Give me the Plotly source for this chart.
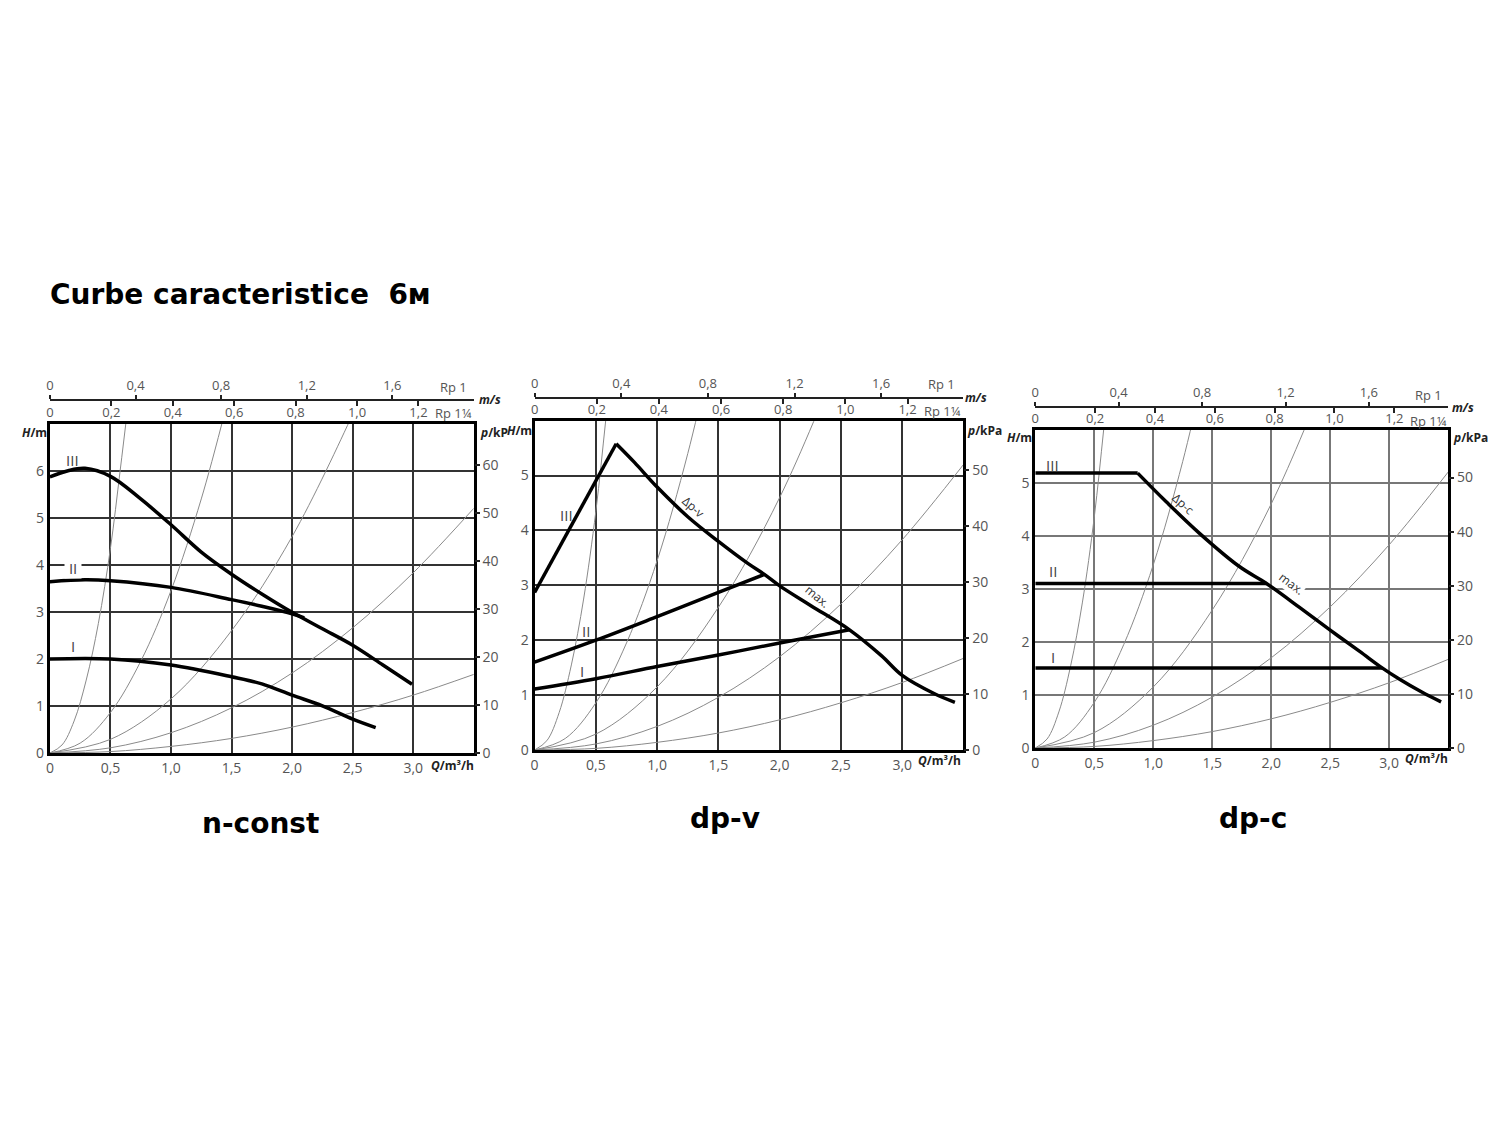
import plotly.graph_objects as go

# ---------------- data ----------------
Q_TICKS = [0, 0.5, 1.0, 1.5, 2.0, 2.5, 3.0]
Q_TICK_TEXT = ["0", "0,5", "1,0", "1,5", "2,0", "2,5", "3,0"]
H_TICKS_7 = [0, 1, 2, 3, 4, 5, 6, 7]
H_TICK_TEXT_7 = ["0", "1", "2", "3", "4", "5", "6", ""]
H_TICKS_6 = [0, 1, 2, 3, 4, 5, 6]
H_TICK_TEXT_6 = ["0", "1", "2", "3", "4", "5", ""]
KPA_TICKS_60 = [0, 10, 20, 30, 40, 50, 60]
KPA_TICKS_50 = [0, 10, 20, 30, 40, 50]
V_RP1_TICKS = [0, 0.4, 0.8, 1.2, 1.6]
V_RP1_TEXT = ["0", "0,4", "0,8", "1,2", "1,6"]
V_RP114_TICKS = [0, 0.2, 0.4, 0.6, 0.8, 1.0, 1.2]
V_RP114_TEXT = ["0", "0,2", "0,4", "0,6", "0,8", "1,0", "1,2"]

Q_MAX = 3.5
KPA_PER_M = 9.81
V_RP1_MAX = 1.98     # m/s (Rp 1) at the right edge of the chart
V_RP114_MAX = 1.38   # m/s (Rp 1 1/4) at the right edge of the chart

# thin system curves (same in all three charts)
SYS_A_Q = [0, 0.1, 0.2, 0.3, 0.4, 0.5, 0.58, 0.65]
SYS_A_H = [0, 0.17, 0.68, 1.55, 2.75, 4.35, 6.0, 7.5]
SYS_B_Q = [0, 0.25, 0.5, 0.75, 1.0, 1.25, 1.45]
SYS_B_H = [0, 0.21, 0.86, 1.95, 3.45, 5.4, 7.3]
SYS_C_Q = [0, 0.5, 1.0, 1.5, 2.0, 2.5, 2.6]
SYS_C_H = [0, 0.29, 1.15, 2.6, 4.6, 7.2, 7.8]
SYS_D_Q = [0, 0.5, 1.0, 1.5, 2.0, 2.5, 3.0, 3.5]
SYS_D_H = [0, 0.11, 0.43, 0.96, 1.7, 2.66, 3.83, 5.2]
SYS_E_Q = [0, 0.5, 1.0, 1.5, 2.0, 2.5, 3.0, 3.5]
SYS_E_H = [0, 0.03, 0.14, 0.31, 0.55, 0.86, 1.23, 1.67]

# n-const
NC_III_Q = [0, 0.15, 0.29, 0.5, 0.75, 1.0, 1.25, 1.5, 1.75, 2.0, 2.25, 2.5, 2.75, 2.99]
NC_III_H = [5.87, 6.0, 6.05, 5.88, 5.4, 4.85, 4.27, 3.8, 3.38, 2.99, 2.64, 2.29, 1.87, 1.46]
NC_II_Q = [0, 0.29, 0.5, 1.0, 1.5, 1.75, 2.0, 2.1]
NC_II_H = [3.64, 3.68, 3.66, 3.52, 3.26, 3.12, 2.96, 2.87]
NC_I_Q = [0, 0.5, 1.0, 1.5, 1.75, 2.0, 2.25, 2.5, 2.69]
NC_I_H = [2.0, 2.0, 1.87, 1.62, 1.47, 1.23, 1.0, 0.72, 0.54]

# dp-v
DV_III_Q = [0, 0.666]
DV_III_H = [2.87, 5.58]
DV_MAX_Q = [0.666, 0.815, 1.0, 1.25, 1.5, 1.74, 1.875, 2.0, 2.255, 2.57, 2.83, 3.0, 3.26, 3.43]
DV_MAX_H = [5.58, 5.24, 4.79, 4.25, 3.8, 3.4, 3.2, 2.99, 2.63, 2.19, 1.72, 1.36, 1.03, 0.87]
DV_II_Q = [0, 0.5, 1.0, 1.5, 1.875]
DV_II_H = [1.6, 2.0, 2.43, 2.87, 3.2]
DV_I_Q = [0, 0.5, 1.0, 1.5, 2.0, 2.57]
DV_I_H = [1.11, 1.3, 1.52, 1.73, 1.95, 2.19]

# dp-c
DC_III_Q = [0, 0.868]
DC_III_H = [5.18, 5.18]
DC_MAX_Q = [0.868, 1.11, 1.39, 1.73, 1.96, 2.24, 2.5, 2.75, 2.94, 3.085, 3.28, 3.44]
DC_MAX_H = [5.18, 4.64, 4.05, 3.42, 3.1, 2.65, 2.22, 1.82, 1.51, 1.3, 1.05, 0.87]
DC_II_Q = [0, 1.96]
DC_II_H = [3.1, 3.1]
DC_I_Q = [0, 2.94]
DC_I_H = [1.51, 1.51]

TITLE = "Curbe caracteristice  6м"
PANEL_TITLES = ["n-const", "dp-v", "dp-c"]

# ---------------- layout helpers ----------------
W, H = 1500, 1125
OFFX, OFFY = -9, -4   # page offset compensation


def fx(px):
    return (px + OFFX) / W


def fy(py):
    return 1 - (py + OFFY) / H


def xn(i):
    return "x" if i == 1 else f"x{i}"


def yn(i):
    return "y" if i == 1 else f"y{i}"


def xk(i):
    return "xaxis" if i == 1 else f"xaxis{i}"


def yk(i):
    return "yaxis" if i == 1 else f"yaxis{i}"


TICK_FONT = dict(family="Open Sans", size=14, color="#555")
TOP_FONT = dict(family="Open Sans", size=13, color="#555")
LAB_FONT = dict(family="Open Sans", size=12, color="#222")
ROMAN_FONT = dict(family="Open Sans", size=15, color="#444")

panels = [
    dict(l=47, r=472, t=423, b=755, line=399, hmax=7, hticks=H_TICKS_7, htext=H_TICK_TEXT_7,
         kticks=KPA_TICKS_60, grid="#333", gw=1.8,
         rp1=(467, 386), rp114=(472, 412), ms=(475, 399), hm=(46, 432), pk=(476, 432),
         pktext="p/kP", q=(474, 768), title=(258, 826)),
    dict(l=533, r=963, t=420, b=752, line=397, hmax=6, hticks=H_TICKS_6, htext=H_TICK_TEXT_6,
         kticks=KPA_TICKS_50, grid="#333", gw=1.8,
         rp1=(957, 383), rp114=(963, 410), ms=(963, 397), hm=(532, 430), pk=(965, 430),
         pktext="p/kPa", q=(963, 763), title=(724, 821)),
    dict(l=1035, r=1449, t=429, b=750, line=406, hmax=6, hticks=H_TICKS_6, htext=H_TICK_TEXT_6,
         kticks=KPA_TICKS_50, grid="#777", gw=1.5,
         rp1=(1445, 394), rp114=(1450, 420), ms=(1451, 407), hm=(1034, 437), pk=(1452, 437),
         pktext="p/kPa", q=(1451, 761), title=(1253, 821)),
]

layout = dict(
    width=W, height=H, autosize=False,
    margin=dict(l=0, r=0, t=0, b=0, pad=0),
    paper_bgcolor="white", plot_bgcolor="white",
    showlegend=False, hovermode=False,
)
annotations = []
fig = go.Figure()

system_curves = [(SYS_A_Q, SYS_A_H), (SYS_B_Q, SYS_B_H), (SYS_C_Q, SYS_C_H),
                 (SYS_D_Q, SYS_D_H), (SYS_E_Q, SYS_E_H)]

main_curves = [
    [(NC_I_Q, NC_I_H, "spline"), (NC_II_Q, NC_II_H, "spline"), (NC_III_Q, NC_III_H, "spline")],
    [(DV_I_Q, DV_I_H, "spline"), (DV_II_Q, DV_II_H, "spline"), (DV_III_Q, DV_III_H, "linear"),
     (DV_MAX_Q, DV_MAX_H, "spline")],
    [(DC_I_Q, DC_I_H, "linear"), (DC_II_Q, DC_II_H, "linear"), (DC_III_Q, DC_III_H, "linear"),
     (DC_MAX_Q, DC_MAX_H, "spline")],
]

roman_labels = [
    [("III", 0.19, 6.23, None), ("II", 0.19, 3.94, "white"), ("I", 0.19, 2.27, None)],
    [("III", 0.26, 4.28, None), ("II", 0.42, 2.16, None), ("I", 0.39, 1.44, None)],
    [("III", 0.15, 5.34, None), ("II", 0.15, 3.34, None), ("I", 0.15, 1.71, None)],
]

curve_texts = [
    [],
    [("Δp-v", 1.29, 4.43, 42, None), ("max.", 2.31, 2.8, 40, None)],
    [("Δp-c", 1.25, 4.6, 43, None), ("max.", 2.17, 3.1, 37, "white")],
]


def ghost(xa, ya):
    # invisible point so that plotly draws the secondary scale
    return go.Scatter(x=[0], y=[0], xaxis=xa, yaxis=ya, mode="markers",
                      marker=dict(opacity=0, size=1), hoverinfo="skip", showlegend=False)


for i, p in enumerate(panels):
    nx = 4 * i + 1
    ny = 2 * i + 1
    X, Y = xn(nx), yn(ny)
    xdom = [fx(p["l"]), fx(p["r"])]
    ydom = [fy(p["b"]), fy(p["t"])]

    layout[xk(nx)] = dict(
        domain=xdom, range=[0, Q_MAX], anchor=Y,
        tickmode="array", tickvals=Q_TICKS, ticktext=Q_TICK_TEXT,
        showgrid=True, gridcolor=p["grid"], gridwidth=p["gw"],
        showline=True, linecolor="black", linewidth=3, mirror=True,
        ticks="", zeroline=False, tickfont=TICK_FONT, fixedrange=True,
    )
    layout[yk(ny)] = dict(
        domain=ydom, range=[0, p["hmax"]], anchor=X,
        tickmode="array", tickvals=p["hticks"], ticktext=p["htext"],
        showgrid=True, gridcolor=p["grid"], gridwidth=p["gw"],
        showline=True, linecolor="black", linewidth=3, mirror=True,
        ticks="", zeroline=False, tickfont=TICK_FONT, fixedrange=True,
    )
    layout[yk(ny + 1)] = dict(
        overlaying=Y, side="right", anchor=X,
        range=[0, p["hmax"] * KPA_PER_M],
        tickmode="array", tickvals=p["kticks"],
        ticks="outside", ticklen=5, tickwidth=1.5, tickcolor="#222",
        showgrid=False, zeroline=False, showline=False,
        tickfont=TICK_FONT, fixedrange=True,
    )
    # lower velocity scale (Rp 1 1/4) labels just above the frame
    layout[xk(nx + 1)] = dict(
        overlaying=X, side="top", anchor=Y, range=[0, V_RP114_MAX],
        tickmode="array", tickvals=V_RP114_TICKS, ticktext=V_RP114_TEXT,
        ticks="", showgrid=False, showline=False, zeroline=False,
        ticklabelstandoff=3,
        tickfont=TOP_FONT, fixedrange=True,
    )
    # upper velocity scale (Rp 1) on the separate line
    layout[xk(nx + 2)] = dict(
        overlaying=X, side="top", anchor="free", position=fy(p["line"]),
        range=[0, V_RP1_MAX],
        tickmode="array", tickvals=V_RP1_TICKS, ticktext=V_RP1_TEXT,
        ticks="outside", ticklen=4, tickwidth=2, tickcolor="#222",
        showline=True, linecolor="#222", linewidth=2,
        showgrid=False, zeroline=False, tickfont=TOP_FONT, fixedrange=True,
    )
    # downward ticks of the Rp 1 1/4 scale on the same line
    layout[xk(nx + 3)] = dict(
        overlaying=X, side="top", anchor="free", position=fy(p["line"]),
        range=[0, V_RP114_MAX],
        tickmode="array", tickvals=V_RP114_TICKS,
        ticks="inside", ticklen=5, tickwidth=2, tickcolor="#222",
        showticklabels=False, showline=False, showgrid=False, zeroline=False,
        fixedrange=True,
    )

    fig.add_trace(ghost(X, yn(ny + 1)))
    fig.add_trace(ghost(xn(nx + 1), Y))
    fig.add_trace(ghost(xn(nx + 2), Y))
    fig.add_trace(ghost(xn(nx + 3), Y))

    for q, h in system_curves:
        fig.add_trace(go.Scatter(x=q, y=h, xaxis=X, yaxis=Y, mode="lines",
                                 line=dict(color="#8a8a8a", width=1, shape="spline"),
                                 hoverinfo="skip"))
    for q, h, shp in main_curves[i]:
        fig.add_trace(go.Scatter(x=q, y=h, xaxis=X, yaxis=Y, mode="lines",
                                 line=dict(color="black", width=3.5, shape=shp),
                                 hoverinfo="skip"))

    for txt, q, h, bg in roman_labels[i]:
        a = dict(text=txt if bg is None else "&nbsp;" + txt + "&nbsp;", x=q, y=h, xref=X, yref=Y,
                 showarrow=False, font=ROMAN_FONT)
        if bg:
            a.update(bgcolor=bg, borderpad=0)
        annotations.append(a)
    for txt, q, h, ang, bg in curve_texts[i]:
        a = dict(text=txt, x=q, y=h, xref=X, yref=Y, showarrow=False,
                 textangle=ang, font=dict(family="Open Sans", size=12, color="#333"))
        if bg:
            a.update(bgcolor=bg, borderpad=0)
        annotations.append(a)

    def pa(text, pos, xanchor, font, yanchor="middle"):
        annotations.append(dict(text=text, x=fx(pos[0]), y=fy(pos[1]), xref="paper", yref="paper",
                                xanchor=xanchor, yanchor=yanchor, showarrow=False, font=font))

    pa("Rp 1", p["rp1"], "right", TOP_FONT)
    pa("Rp 1¼", p["rp114"], "right", TOP_FONT)
    pa("<b><i>m/s</i></b>", p["ms"], "left", LAB_FONT)
    pa("<b><i>H</i>/m</b>", p["hm"], "right", LAB_FONT)
    pa("<b><i>p</i>/" + p["pktext"][2:] + "</b>", p["pk"], "left", LAB_FONT)
    pa("<b><i>Q</i>/m³/h</b>", p["q"], "right", LAB_FONT)
    pa("<b>" + PANEL_TITLES[i] + "</b>", p["title"], "center",
       dict(family="DejaVu Sans", size=28, color="black"))

annotations.append(dict(text="<b>" + TITLE + "</b>", x=fx(45), y=fy(293), xref="paper", yref="paper",
                        xanchor="left", yanchor="middle", showarrow=False,
                        font=dict(family="DejaVu Sans", size=28, color="black")))

layout["annotations"] = annotations
fig.update_layout(**layout)
fig.write_html("out.html")
